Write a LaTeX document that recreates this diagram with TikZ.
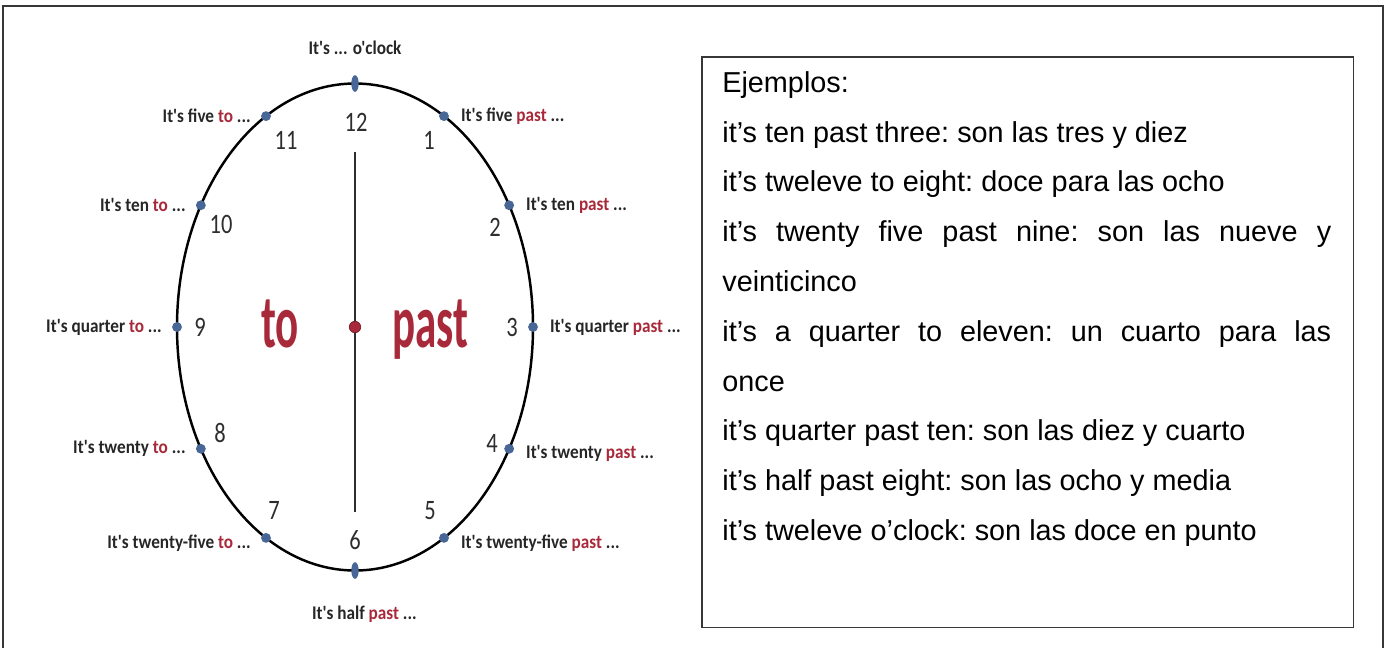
\documentclass[tikz,border=0pt]{standalone}
\usepackage{fontspec}
\usetikzlibrary{positioning,shapes.geometric}
\newfontfamily\clockfont{Carlito}
\newfontfamily\ejfont{Liberation Sans}
\definecolor{clockred}{RGB}{168,42,58}
\definecolor{dotblue}{RGB}{72,102,150}
\definecolor{numgray}{RGB}{45,45,45}
\definecolor{framegray}{RGB}{55,55,55}
\newcommand{\redword}[1]{\textcolor{clockred}{#1}}

\begin{document}
\begin{tikzpicture}[x=0.02cm,y=-0.02cm,
  hourdot/.style={circle,fill=dotblue,inner sep=0,minimum size=5.6pt},
  hourtip/.style={ellipse,fill=dotblue,inner sep=0,minimum width=4.2pt,minimum height=9.5pt},
  hournum/.style={font=\clockfont\fontsize{16}{16}\selectfont,text=numgray,inner sep=0,xscale=0.8,transform shape},
  hourlabel/.style={font=\clockfont\bfseries\fontsize{11}{12}\selectfont,text=black!85,inner sep=0,xscale=0.89,transform shape},
  bigword/.style={font=\clockfont\bfseries\fontsize{43}{43}\selectfont,text=clockred,inner sep=0,xscale=0.57,transform shape,anchor=base},
  hand/.style={numgray,line width=1.1pt}]
\useasboundingbox (0,0) rectangle (1390,647);

% outer frame (bottom edge is cut off)
\draw[framegray,line width=1.1pt] (3,650) -- (3,6) -- (1383,6) -- (1383,650);

% clock face
\draw[line width=1.4pt] (355,327) ellipse [x radius=178,y radius=243.5];
\coordinate (handtop) at (355,152);
\coordinate (handbot) at (355,512);
\draw[hand] (handtop) -- (handbot);
\node[circle,fill=clockred,draw=clockred!70!black,inner sep=0,minimum size=6.5pt] (hub) at (355,327) {};

\foreach \h in {1,...,5,7,8,9,10,11}
  \node[hourdot] (m\h) at ({355+178*cos(90-30*\h)},{327-243.5*sin(90-30*\h)}) {};
\node[hourtip] (m12) at (355,83.5) {};
\node[hourtip] (m6) at (355,570.5) {};

\foreach \h/\nx/\ny in {1/429/140,2/495/227,3/512/327,4/492/443,5/430/511,6/355/540,
                        7/274/510,8/220/433,9/200/327,10/221/224,11/286/140,12/356/122}
  \node[hournum] (n\h) at (\nx,\ny) {\h};

\node[bigword] (to) at (280,347) {to};
\node[bigword] (past) at (430,347) {past};

% labels round the dial
\foreach \h/\w/\dy in {1/five/0pt,2/ten/0pt,3/quarter/0pt,4/twenty/-2.5pt,5/twenty-five/-3pt}
  \node[hourlabel,right=6.5pt of m\h,yshift=\dy] (l\h) {It's \w\ \redword{past} ...};
\foreach \h/\w/\dy in {7/twenty-five/-3pt,8/twenty/0pt,9/quarter/0pt,10/ten/0pt,11/five/0pt}
  \node[hourlabel,left=5.5pt of m\h,yshift=\dy] (l\h) {It's \w\ \redword{to} ...};
\node[hourlabel,above=11pt of m12] (l12) {It's ... o'clock};
\node[hourlabel,below=15pt of m6,xshift=6pt] (l6) {It's half \redword{past} ...};

% examples box
\node[draw=framegray,line width=0.9pt,minimum width=13.04cm,minimum height=11.42cm,
      anchor=north west,inner sep=0] (exbox) at (701,56) {};
\node[anchor=north west,inner sep=0,text width=12.18cm,align=justify,
      font=\ejfont\fontsize{16.4}{28.35}\selectfont] (extext) at (722,71) {\frenchspacing
Ejemplos:\\
it’s ten past three: son las tres y diez\\
it’s tweleve to eight: doce para las ocho\\
it’s twenty five past nine: son las nueve y\linebreak veinticinco\\
it’s a quarter to eleven: un cuarto para las\linebreak once\\
it’s quarter past ten: son las diez y cuarto\\
it’s half past eight: son las ocho y media\\
it’s tweleve o’clock: son las doce en punto};
\end{tikzpicture}
\end{document}
